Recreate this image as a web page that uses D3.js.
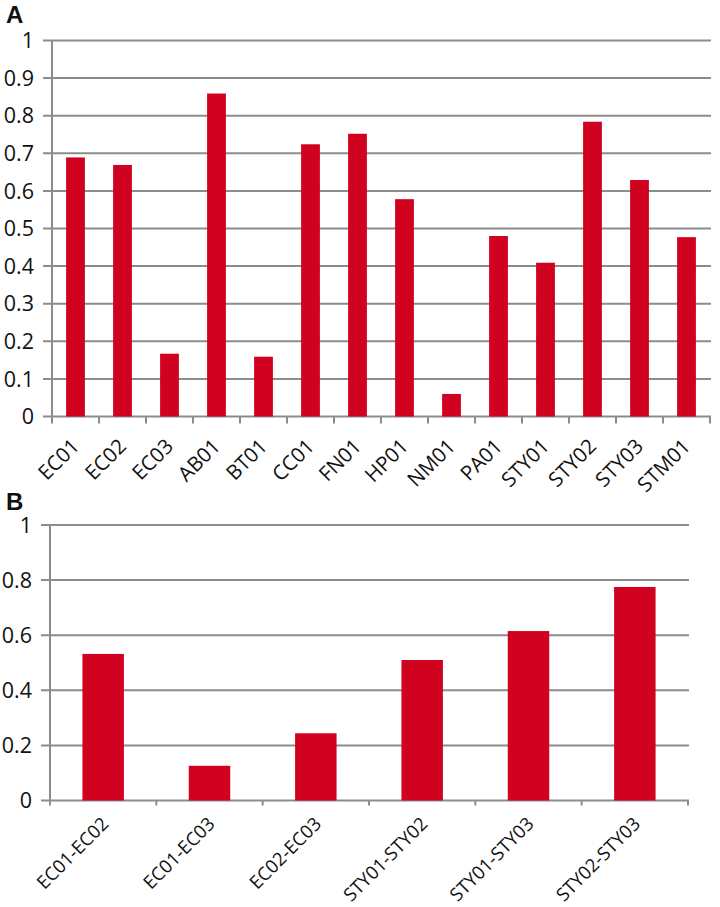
<!DOCTYPE html>
<html><head><meta charset="utf-8">
<script src="https://cdn.jsdelivr.net/npm/d3@7"></script>
<style>body{margin:0;background:#fff}svg{display:block}text{font-family:"Open Sans",sans-serif;fill:#111}</style>
</head><body><svg id="c" width="720" height="907"></svg>
<script>
const catsA = ["EC01","EC02","EC03","AB01","BT01","CC01","FN01","HP01","NM01","PA01","STY01","STY02","STY03","STM01"];
const valsA = [0.689,0.669,0.167,0.859,0.159,0.724,0.752,0.578,0.060,0.480,0.409,0.784,0.629,0.477];
const ticksA = [0,0.1,0.2,0.3,0.4,0.5,0.6,0.7,0.8,0.9,1];
const catsB = ["EC01-EC02","EC01-EC03","EC02-EC03","STY01-STY02","STY01-STY03","STY02-STY03"];
const valsB = [0.532,0.126,0.244,0.510,0.615,0.775];
const ticksB = [0,0.2,0.4,0.6,0.8,1];

const RED = "#d0021f", GRID = "#8c8c8c";
const svg = d3.select("#c");

function panel(o){
  const g = svg.append("g");
  const x = d3.scaleBand().domain(o.cats).range([o.x0,o.x1]).paddingInner(o.pad).paddingOuter(o.pad/2);
  const xb = d3.scaleBand().domain(o.cats).range([o.x0,o.x1]);
  const y = d3.scaleLinear().domain([0,1]).range([o.y0,o.y1]);
  g.selectAll(".gr").data(o.ticks).join("line")
    .attr("x1",o.x0-9).attr("x2",o.x1+1).attr("y1",d=>y(d)).attr("y2",d=>y(d))
    .attr("stroke",GRID).attr("stroke-width",2);
  g.selectAll(".bar").data(o.vals).join("rect")
    .attr("x",(d,i)=>x(o.cats[i])).attr("width",x.bandwidth())
    .attr("y",d=>y(d)).attr("height",d=>y(0)-y(d)).attr("fill",RED);
  g.append("line").attr("x1",o.x0).attr("x2",o.x0).attr("y1",y(1)).attr("y2",y(0)+1)
    .attr("stroke",GRID).attr("stroke-width",2);
  const edges = o.cats.map(c=>xb(c)).concat([o.x1]);
  g.selectAll(".xt").data(edges).join("line")
    .attr("x1",d=>d).attr("x2",d=>d).attr("y1",y(0)).attr("y2",y(0)+o.tickLen)
    .attr("stroke",GRID).attr("stroke-width",2);
  g.selectAll(".yl").data(o.ticks).join("text")
    .attr("x",o.x0-18).attr("y",d=>y(d)).attr("dy","0.36em")
    .attr("text-anchor","end").style("font-size",o.yfs+"px")
    .text(d=>d3.format("~g")(d));
  g.selectAll(".xl").data(o.cats).join("text")
    .attr("transform",c=>`translate(${xb(c)+xb.bandwidth()/2+o.lx},${y(0)+o.ly}) rotate(-45)`)
    .attr("text-anchor","end").attr("dy","0.35em").style("font-size",o.xfs+"px")
    .text(c=>c);
  svg.append("text").attr("x",o.letX).attr("y",o.letY).style("font-weight","bold")
    .style("font-size","24px").style("font-family","'Liberation Sans',Arial,sans-serif").text(o.letter);
}

panel({cats:catsA,vals:valsA,ticks:ticksA,x0:52,x1:710,y0:416.5,y1:40.5,pad:0.6,tickLen:7,
  yfs:21.5,xfs:20.5,lx:0,ly:26,letter:"A",letX:6,letY:23});
panel({cats:catsB,vals:valsB,ticks:ticksB,x0:50,x1:688,y0:800.5,y1:525,pad:0.61,tickLen:5,
  yfs:21.5,xfs:18.5,lx:2,ly:20,letter:"B",letX:6,letY:510});
</script></body></html>
